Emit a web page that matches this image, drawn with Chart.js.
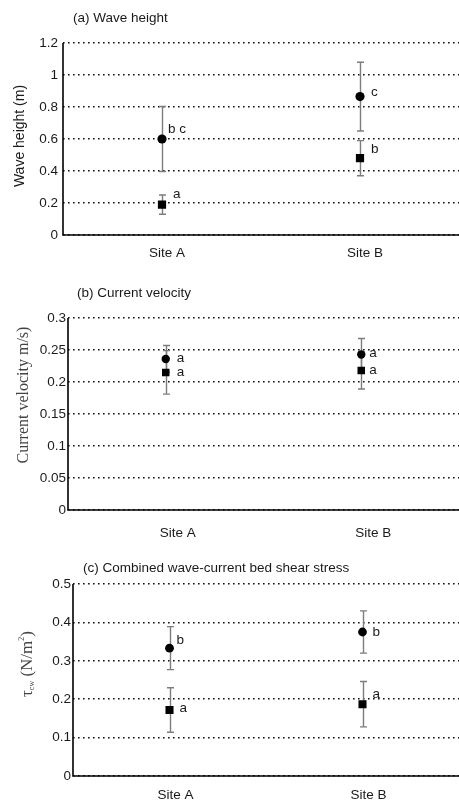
<!DOCTYPE html>
<html><head><meta charset="utf-8">
<script src="https://cdn.jsdelivr.net/npm/chart.js@4.4.1/dist/chart.umd.min.js"></script>
<style>
html,body{margin:0;padding:0;background:#fff;}
#wrap{position:relative;width:459px;height:802px;overflow:hidden;background:#fff;}
canvas{position:absolute;left:0;}
</style></head><body>
<div id="wrap">
<canvas id="cA" width="459" height="272" style="top:0px;width:459px;height:272px"></canvas>
<canvas id="cB" width="459" height="268" style="top:272px;width:459px;height:268px"></canvas>
<canvas id="cC" width="459" height="262" style="top:540px;width:459px;height:262px"></canvas>
</div>
<script>
// ---------- data ----------
const sites = ['Site A', 'Site B'];

// (a) Wave height (m)
const waveCircle = [0.60, 0.865];
const waveCircleErr = [0.203, 0.215];
const waveSquare = [0.19, 0.48];
const waveSquareErr = [0.06, 0.11];
const waveCircleLetters = ['b c', 'c'];
const waveSquareLetters = ['a', 'b'];
const waveTicks = ['0', '0.2', '0.4', '0.6', '0.8', '1', '1.2'];

// (b) Current velocity (m/s)
const velCircle = [0.236, 0.243];
const velCircleErr = [0.021, 0.025];
const velSquare = [0.215, 0.218];
const velSquareErr = [0.034, 0.029];
const velCircleLetters = ['a', 'a'];
const velSquareLetters = ['a', 'a'];
const velTicks = ['0', '0.05', '0.1', '0.15', '0.2', '0.25', '0.3'];

// (c) Combined wave-current bed shear stress (N/m2)
const tauCircle = [0.333, 0.375];
const tauCircleErr = [0.056, 0.055];
const tauSquare = [0.172, 0.187];
const tauSquareErr = [0.058, 0.059];
const tauCircleLetters = ['b', 'b'];
const tauSquareLetters = ['a', 'a'];
const tauTicks = ['0', '0.1', '0.2', '0.3', '0.4', '0.5'];

// ---------- drawing ----------
const SANS = "'Liberation Sans', Arial, sans-serif";
const SERIF = "'Liberation Serif', 'Times New Roman', serif";

function makePanel(canvasId, p) {
  const plugin = {
    id: 'deco_' + canvasId,
    beforeDatasetsDraw(chart) {
      const ctx = chart.ctx;
      const y = chart.scales.y;
      const ca = chart.chartArea;
      ctx.save();
      // solid axis lines
      ctx.strokeStyle = '#000';
      ctx.lineWidth = 1.6;
      ctx.setLineDash([]);
      ctx.beginPath();
      ctx.moveTo(ca.left, ca.top);
      ctx.lineTo(ca.left, ca.bottom);
      ctx.lineTo(ca.right, ca.bottom);
      ctx.stroke();
      // error bars
      ctx.strokeStyle = '#7d7d7d';
      ctx.lineWidth = 1.4;
      chart.data.datasets.forEach((ds, di) => {
        const meta = chart.getDatasetMeta(di);
        const errs = p.errs[di];
        ds.data.forEach((v, i) => {
          const px = Math.round(meta.data[i].x) + 0.5;
          const top = y.getPixelForValue(v + errs[i]);
          const bot = y.getPixelForValue(v - errs[i]);
          ctx.beginPath();
          ctx.moveTo(px, top); ctx.lineTo(px, bot);
          ctx.moveTo(px - 3.5, top); ctx.lineTo(px + 3.5, top);
          ctx.moveTo(px - 3.5, bot); ctx.lineTo(px + 3.5, bot);
          ctx.stroke();
        });
      });
      ctx.restore();
    },
    afterDatasetsDraw(chart) {
      const ctx = chart.ctx;
      ctx.save();
      ctx.fillStyle = '#1a1a1a';
      ctx.font = '13.5px ' + SANS;
      ctx.textAlign = 'left';
      ctx.textBaseline = 'middle';
      chart.data.datasets.forEach((ds, di) => {
        const meta = chart.getDatasetMeta(di);
        p.letters[di].forEach((t, i) => {
          const off = p.letterOff[di][i];
          ctx.fillText(t, meta.data[i].x + off[0], meta.data[i].y + off[1]);
        });
      });
      // panel title
      ctx.fillStyle = '#1a1a1a';
      ctx.font = '13.5px ' + SANS;
      ctx.fillText(p.title, p.titlePos[0], p.titlePos[1]);
      // y axis title
      ctx.translate(p.yTitlePos[0], p.yTitlePos[1]);
      ctx.rotate(-Math.PI / 2);
      ctx.fillStyle = p.yTitleColor;
      ctx.textBaseline = 'middle';
      const parts = p.yTitleParts;
      let total = 0;
      parts.forEach(pt => { ctx.font = pt.font; total += ctx.measureText(pt.t).width; });
      let xx = -total / 2;
      parts.forEach(pt => {
        ctx.font = pt.font;
        ctx.fillText(pt.t, xx, pt.dy || 0);
        xx += ctx.measureText(pt.t).width;
      });
      ctx.restore();
    }
  };

  return new Chart(document.getElementById(canvasId), {
    type: 'line',
    data: {
      labels: sites,
      datasets: [
        { label: 'circle', data: p.circle, showLine: false, pointStyle: 'circle',
          pointRadius: p.circleR, pointHoverRadius: p.circleR,
          backgroundColor: '#000', borderColor: '#000', pointBorderWidth: 0 },
        { label: 'square', data: p.square, showLine: false, pointStyle: 'rect',
          pointRadius: p.squareR, pointHoverRadius: p.squareR,
          backgroundColor: '#000', borderColor: '#000', pointBorderWidth: 0 }
      ]
    },
    options: {
      responsive: false,
      devicePixelRatio: 1,
      animation: false,
      events: [],
      layout: { autoPadding: false, padding: { left: 0, right: p.padRight, top: p.padTop, bottom: 0 } },
      plugins: { legend: { display: false }, tooltip: { enabled: false }, title: { display: false } },
      scales: {
        x: {
          type: 'category',
          offset: true,
          grid: { display: false, drawTicks: false },
          border: { display: false },
          ticks: { color: '#1a1a1a', font: { family: SANS, size: 13.5 }, padding: p.xPad,
                   maxRotation: 0, labelOffset: p.xLabelOffset },
          afterFit(s) { s.height = p.xHeight; s.paddingLeft = 0; s.paddingRight = 0; }
        },
        y: {
          min: 0, max: p.max,
          ticks: {
            stepSize: p.step,
            color: '#1a1a1a',
            font: { family: SANS, size: 13.5 },
            padding: p.yPad,
            callback: (v, i) => (p.ticks[i] !== undefined ? p.ticks[i] : v)
          },
          grid: { display: true, drawTicks: false, color: '#111', lineWidth: 1.6 },
          border: { display: false, dash: [1.6, 3.4] },
          afterFit(s) { s.width = p.left; s.paddingTop = 0; s.paddingBottom = 0; }
        }
      }
    },
    plugins: [plugin]
  });
}

makePanel('cA', {
  circle: waveCircle, square: waveSquare,
  errs: [waveCircleErr, waveSquareErr],
  letters: [waveCircleLetters, waveSquareLetters],
  letterOff: [[[6, -10], [11, -4]], [[11, -10], [11, -9]]],
  ticks: waveTicks, max: 1.2, step: 0.2,
  left: 63, padTop: 43, padRight: 0, xHeight: 37, xPad: 10, yPad: 5, xLabelOffset: 5,
  circleR: 4.6, squareR: 5.8,
  title: '(a) Wave height', titlePos: [73, 18],
  yTitlePos: [20, 136], yTitleColor: '#1a1a1a',
  yTitleParts: [{ t: 'Wave height (m)', font: '14px ' + SANS }]
});

makePanel('cB', {
  circle: velCircle, square: velSquare,
  errs: [velCircleErr, velSquareErr],
  letters: [velCircleLetters, velSquareLetters],
  letterOff: [[[11, -1], [8, -1]], [[11, 0], [8, 0]]],
  ticks: velTicks, max: 0.3, step: 0.05,
  left: 68, padTop: 46, padRight: -7, xHeight: 30, xPad: 15, yPad: 2, xLabelOffset: 12,
  circleR: 4.2, squareR: 5.3,
  title: '(b) Current velocity', titlePos: [77, 21],
  yTitlePos: [24, 123], yTitleColor: '#444',
  yTitleParts: [{ t: 'Current velocity m/s)', font: '16px ' + SERIF }]
});

makePanel('cC', {
  circle: tauCircle, square: tauSquare,
  errs: [tauCircleErr, tauSquareErr],
  letters: [tauCircleLetters, tauSquareLetters],
  letterOff: [[[7, -8], [10, 0]], [[10, -2], [10, -10]]],
  ticks: tauTicks, max: 0.5, step: 0.1,
  left: 73, padTop: 44, padRight: -4, xHeight: 26, xPad: 11, yPad: 2, xLabelOffset: 6,
  circleR: 4.4, squareR: 5.7,
  title: '(c) Combined wave-current bed shear stress', titlePos: [83, 28],
  yTitlePos: [28, 124], yTitleColor: '#444',
  yTitleParts: [
    { t: '\u03C4', font: '17px ' + SERIF },
    { t: 'cw', font: '8px ' + SERIF, dy: 4 },
    { t: ' (N/m', font: '17px ' + SERIF },
    { t: '2', font: '8px ' + SERIF, dy: -6 },
    { t: ')', font: '17px ' + SERIF }
  ]
});
</script>
</body></html>
